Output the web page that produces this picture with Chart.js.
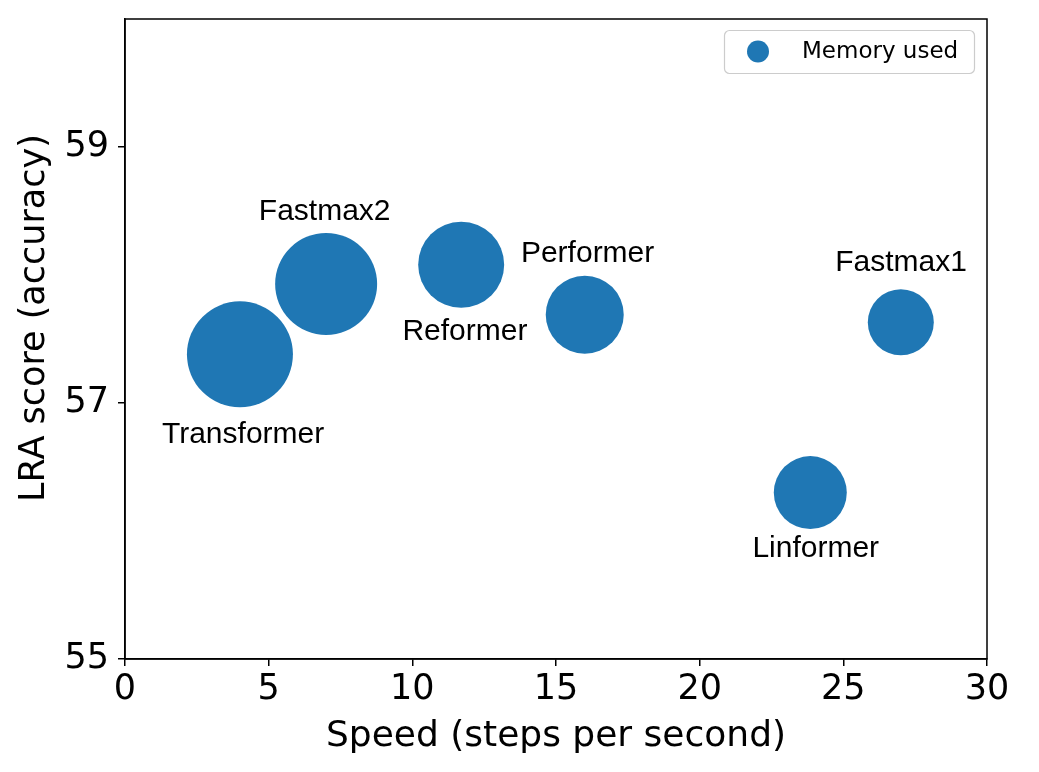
<!DOCTYPE html>
<html>
<head>
<meta charset="utf-8">
<script src="https://cdn.jsdelivr.net/npm/chart.js@4/dist/chart.umd.min.js"></script>
<style>
  html, body { margin: 0; padding: 0; background: #fff; }
  #chart { display: block; }
</style>
</head>
<body>
<canvas id="chart" width="1039" height="772"></canvas>
<script>
// --- data ---
const models = ['Transformer', 'Fastmax2', 'Reformer', 'Performer', 'Fastmax1', 'Linformer'];
const speed = [4.0, 7.0, 11.7, 16.0, 27.0, 23.85];          // steps per second
const lraScore = [57.38, 57.93, 58.08, 57.69, 57.63, 56.30]; // accuracy
const memoryUsed = [53, 51, 43, 39, 33, 36.5];               // bubble radius
// where each name sits (data coords)
const labelX = [4.11, 6.95, 11.83, 16.10, 27.01, 24.04];
const labelY = [56.69, 58.43, 57.49, 58.10, 58.03, 55.80];
const xTicks = [0, 5, 10, 15, 20, 25, 30];
const yTicks = [55, 57, 59];

const BLUE = '#1f77b4';
const tickFont = { family: 'DejaVu Sans', size: 35 };

// names next to bubbles, frame, y title and legend box
const annotatePlugin = {
    id: 'annotate',
    afterDraw(chart) {
        const { ctx, chartArea, scales } = chart;
        ctx.save();

        // frame round the plot
        ctx.strokeStyle = '#000';
        ctx.lineWidth = 1.5;
        ctx.strokeRect(chartArea.left, chartArea.top, chartArea.right - chartArea.left, chartArea.bottom - chartArea.top);

        // y title (sits a little above the axis middle in the original)
        ctx.save();
        ctx.translate(35, (chartArea.top + chartArea.bottom) / 2 - 21);
        ctx.rotate(-Math.PI / 2);
        ctx.fillStyle = '#000';
        ctx.font = '35px "DejaVu Sans"';
        ctx.textAlign = 'center';
        ctx.textBaseline = 'middle';
        ctx.fillText('LRA score (accuracy)', 0, 0);
        ctx.restore();

        // model names
        ctx.fillStyle = '#000';
        ctx.font = '30px "Liberation Sans", Arial, sans-serif';
        ctx.textAlign = 'center';
        ctx.textBaseline = 'alphabetic';
        models.forEach((name, i) => {
            ctx.fillText(name, scales.x.getPixelForValue(labelX[i]), scales.y.getPixelForValue(labelY[i]));
        });

        // legend
        const w = 250, h = 43;
        const lx = chartArea.right - 13 - w, ly = chartArea.top + 11;
        ctx.beginPath();
        ctx.roundRect(lx + 0.5, ly + 0.5, w, h, 5);
        ctx.fillStyle = 'rgba(255,255,255,0.8)';
        ctx.fill();
        ctx.strokeStyle = '#cccccc';
        ctx.lineWidth = 1.2;
        ctx.stroke();
        ctx.beginPath();
        ctx.arc(lx + 34, ly + h / 2, 11, 0, Math.PI * 2);
        ctx.fillStyle = BLUE;
        ctx.fill();
        ctx.fillStyle = '#000';
        ctx.font = '23px "DejaVu Sans"';
        ctx.textAlign = 'left';
        ctx.textBaseline = 'middle';
        ctx.fillText('Memory used', lx + 78, ly + h / 2 + 1);
        ctx.restore();
    }
};

new Chart(document.getElementById('chart'), {
    type: 'bubble',
    data: {
        datasets: [{
            label: 'Memory used',
            data: speed.map((s, i) => ({ x: s, y: lraScore[i], r: memoryUsed[i] })),
            backgroundColor: BLUE,
            borderWidth: 0,
            hoverRadius: 0,
            clip: false
        }]
    },
    options: {
        responsive: false,
        animation: false,
        devicePixelRatio: 1,
        layout: { autoPadding: false, padding: { top: 19, right: 52, left: 0, bottom: 0 } },
        plugins: { legend: { display: false }, tooltip: { enabled: false } },
        scales: {
            x: {
                type: 'linear',
                position: 'bottom',
                min: 0, max: 30,
                afterBuildTicks: ax => { ax.ticks = xTicks.map(v => ({ value: v })); },
                afterFit: ax => { ax.height = 113; ax.paddingLeft = 0; ax.paddingRight = 0; },
                grid: { drawOnChartArea: false, drawTicks: true, tickLength: 7, color: '#000', lineWidth: 1.5 },
                border: { display: true, color: '#000', width: 1.5 },
                ticks: { font: tickFont, color: '#000', padding: 3, maxRotation: 0 },
                title: { display: true, text: 'Speed (steps per second)', font: { family: 'DejaVu Sans', size: 36 }, color: '#000', padding: { top: 0, bottom: 14 } }
            },
            y: {
                type: 'linear',
                position: 'left',
                min: 55, max: 60,
                afterBuildTicks: ax => { ax.ticks = yTicks.map(v => ({ value: v })); },
                afterFit: ax => { ax.width = 125; ax.paddingTop = 0; ax.paddingBottom = 0; },
                grid: { drawOnChartArea: false, drawTicks: true, tickLength: 7, color: '#000', lineWidth: 1.5 },
                border: { display: true, color: '#000', width: 1.5 },
                ticks: { font: tickFont, color: '#000', padding: 9 },
                title: { display: false }
            }
        }
    },
    plugins: [annotatePlugin]
});
</script>
</body>
</html>
